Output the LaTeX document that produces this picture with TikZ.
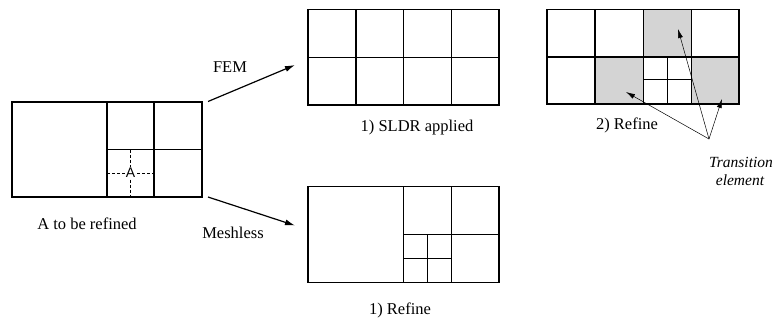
\documentclass[tikz,border=0pt]{standalone}
\usepackage{fontspec}
\setmainfont{Liberation Serif}
\newfontfamily\asans{Liberation Sans}
\usetikzlibrary{arrows.meta}
\begin{document}
\begin{tikzpicture}[x=1pt,y=-1pt,
  mesh/.style={line width=1.2pt,line join=miter},
  hole/.style={dash pattern=on 3pt off 2pt,line width=0.6pt},
  shade/.style={fill=black!17},
  lbl/.style={font=\fontsize{16.5}{19}\selectfont,inner sep=0pt},
  ilbl/.style={font=\fontsize{15.5}{18}\selectfont\itshape,inner sep=0pt},
  bigarrow/.style={line width=1.2pt,-{Latex[length=10pt,width=6pt]}},
  thinarrow/.style={line width=0.5pt,-{Latex[length=9pt,width=5pt]}}]
\useasboundingbox (0,0) rectangle (776,322);
% ---- left mesh
\draw[mesh] (12,102) rectangle (202,197);
\draw[mesh] (107,102) -- (107,197) (154,102) -- (154,197) (107,149.5) -- (202,149.5);
\draw[hole] (130.5,149.5) -- (130.5,197) (107,173) -- (154,173);
\node[fill=white,inner sep=1pt,font=\asans\fontsize{14}{16}\selectfont] (A) at (130.5,173) {A};
\node[lbl] (t1) at (87,224) {A to be refined};
% ---- FEM mesh
\draw[mesh] (308,9.5) rectangle (499,105);
\draw[mesh] (356,9.5) -- (356,105) (403.5,9.5) -- (403.5,105) (451.5,9.5) -- (451.5,105) (308,57.3) -- (499,57.3);
\node[lbl] (t2) at (417,128) {1) SLDR applied};
% ---- meshless refine
\draw[mesh] (308,186.5) rectangle (499,282.5);
\draw[mesh] (403.5,186.5) -- (403.5,282.5) (451.5,186.5) -- (451.5,282.5) (403.5,234.5) -- (499,234.5);
\draw[mesh] (427.5,234.5) -- (427.5,282.5) (403.5,258.5) -- (451.5,258.5);
\node[lbl] (t3) at (400,310) {1) Refine};
% ---- right mesh (2) refine
\fill[shade] (643.5,9.5) rectangle (691.5,57);
\fill[shade] (595,57) rectangle (643.5,104);
\fill[shade] (691.5,57) rectangle (739,104);
\draw[mesh] (547,9.5) rectangle (739,104);
\draw[mesh] (595,9.5) -- (595,104) (643.5,9.5) -- (643.5,104) (691.5,9.5) -- (691.5,104) (547,57) -- (739,57);
\draw[mesh] (667.5,57) -- (667.5,104) (643.5,79.5) -- (691.5,79.5);
\node[lbl] (t4) at (627,125) {2) Refine};
\node[ilbl] (t5) at (741,162) {Transition};
\node[ilbl] (t6) at (740,180) {element};
% ---- arrows
\coordinate (fs) at (208,101.5);
\coordinate (fe) at (295,65);
\coordinate (ms) at (208,197);
\coordinate (me) at (295,225.5);
\draw[bigarrow] (fs) -- (fe);
\draw[bigarrow] (ms) -- (me);
\node[lbl] (fem) at (230,67) {FEM};
\node[lbl] (msl) at (233,233) {Meshless};
\coordinate (c) at (709,139);
\coordinate (p1) at (678,29);
\coordinate (p2) at (626,92);
\coordinate (p3) at (722,99);
\draw[thinarrow] (c) -- (p1);
\draw[thinarrow] (c) -- (p2);
\draw[thinarrow] (c) -- (p3);
\end{tikzpicture}
\end{document}
